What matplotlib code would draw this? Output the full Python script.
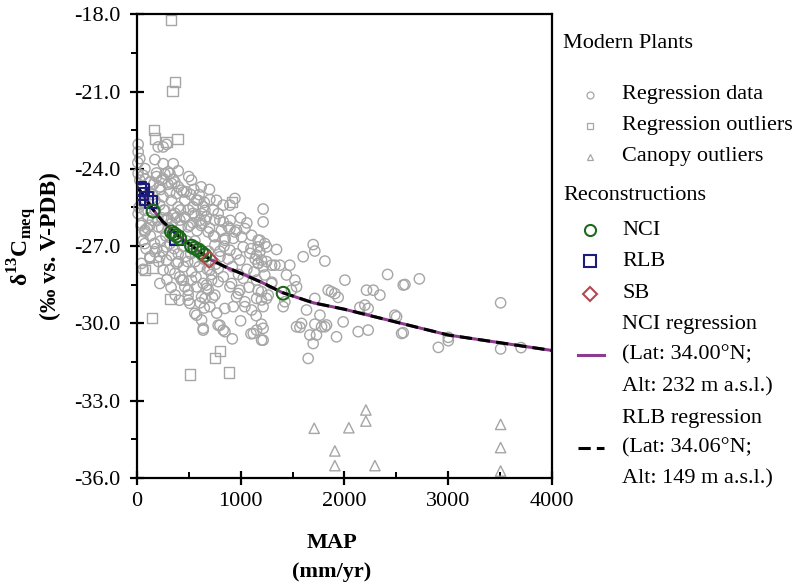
import matplotlib
matplotlib.use("Agg")
import matplotlib.pyplot as plt
from matplotlib.lines import Line2D
from matplotlib.ticker import MultipleLocator, FormatStrFormatter

plt.rcParams['font.family'] = ['Liberation Serif', 'DejaVu Serif']
plt.rcParams['mathtext.fontset'] = 'custom'
plt.rcParams['mathtext.rm'] = 'Liberation Serif'
plt.rcParams['mathtext.bf'] = 'Liberation Serif:bold'

# modern plant data (MAP mm/yr, d13C permil)
regression_data = [
    (13, -23.05), (13, -23.34), (10, -23.76), (174, -23.64), (254, -23.80), (351, -23.80),
    (399, -24.08), (206, -23.15), (254, -23.15), (286, -23.05), (78, -23.99), (190, -24.16),
    (527, -24.44), (479, -24.89), (704, -25.19), (945, -25.15), (13, -24.18), (29, -24.44),
    (254, -24.38), (335, -24.57), (319, -24.18), (126, -24.51), (222, -24.70), (383, -24.96),
    (29, -23.6), (61, -24.25), (302, -24.12), (238, -24.44), (367, -24.51), (431, -24.83),
    (832, -25.41), (656, -25.61), (784, -25.74), (752, -25.99), (624, -26.12), (559, -25.80),
    (688, -26.45), (816, -26.38), (881, -26.25), (945, -26.45), (1041, -26.32), (1009, -26.64),
    (318, -24.90), (174, -25.22), (254, -25.09), (334, -25.22), (45, -25.35), (77, -25.61),
    (13, -25.74), (270, -25.61), (399, -25.48), (463, -25.22), (350, -25.80), (463, -25.87),
    (543, -25.48), (591, -25.22), (624, -25.74), (511, -26.19), (286, -25.99), (126, -26.19),
    (45, -26.12), (77, -26.45), (752, -26.64), (848, -26.77), (1106, -26.58),
    (78, -26.38), (62, -26.77), (206, -26.25), (286, -27.03), (174, -27.22), (222, -27.41),
    (126, -27.41), (319, -27.93), (383, -27.67), (415, -28.19), (463, -28.58), (495, -28.90),
    (511, -29.22), (447, -28.32), (527, -28.32), (576, -28.58), (640, -28.45), (720, -28.32),
    (704, -27.93), (784, -27.87), (833, -28.19), (897, -28.58), (961, -28.97), (929, -29.35),
    (993, -28.71), (1025, -28.25), (1154, -28.32), (1202, -28.77), (1250, -29.03), (1154, -29.03),
    (1041, -29.35), (752, -28.90), (672, -28.64), (624, -28.97), (704, -29.35), (576, -29.68),
    (640, -30.26), (801, -30.07), (849, -30.32), (367, -25.73), (415, -25.99), (495, -26.25),
    (543, -25.73), (608, -25.99), (672, -25.86), (736, -25.60), (576, -25.22), (640, -25.47),
    (768, -25.22), (897, -25.41), (833, -26.06), (897, -26.32), (961, -26.38), (929, -26.70),
    (1025, -27.03), (1090, -27.28), (1170, -27.67), (1186, -26.77), (1250, -27.03), (993, -27.54),
    (897, -27.16), (801, -27.41), (752, -26.96),
    (77, -26.90), (190, -27.09), (334, -27.35), (367, -28.06), (431, -28.32), (495, -28.71),
    (495, -29.10), (559, -29.61), (624, -29.87), (640, -30.19), (784, -30.07), (832, -30.26),
    (656, -29.03), (848, -29.42), (672, -28.51), (784, -28.38), (913, -28.45), (977, -28.84),
    (1041, -29.16), (1106, -29.48), (1154, -30.26), (1202, -30.65), (1122, -30.39), (126, -27.48),
    (254, -27.93), (45, -27.67), (222, -28.45), (399, -27.61), (286, -27.54),
    (220, -25.4), (260, -25.6), (300, -25.9), (340, -26.1), (380, -25.9), (420, -25.6),
    (460, -25.9), (500, -25.6), (540, -26.1), (580, -26.4), (620, -26.2), (660, -26.0),
    (700, -26.3), (740, -26.6), (200, -26.0), (240, -26.3), (280, -26.6), (320, -26.9),
    (360, -27.1), (400, -27.3), (440, -27.0), (480, -26.8), (520, -27.3), (560, -27.6),
    (600, -27.8), (640, -27.5), (680, -27.9), (720, -28.1), (760, -27.7), (800, -27.2),
    (840, -27.0), (880, -27.5), (920, -27.8), (960, -27.3), (150, -25.0), (180, -25.6),
    (110, -25.9), (130, -26.6), (170, -26.9), (210, -27.6), (250, -27.2), (290, -28.3),
    (330, -28.6), (370, -28.9), (410, -29.1), (450, -27.8), (490, -27.6), (530, -28.0),
    (570, -28.2), (610, -29.2), (650, -29.4), (690, -28.7), (730, -29.0), (770, -29.6),
    (300, -24.6), (350, -24.4), (400, -24.7), (450, -24.9), (500, -24.3), (550, -24.8),
    (600, -25.0), (650, -25.3), (700, -24.8), (270, -24.2), (230, -24.8), (190, -24.3),
    (160, -24.6), (120, -24.9), (80, -24.4), (60, -25.3), (40, -26.2), (20, -25.5),
    (90, -27.1), (60, -27.9), (100, -26.3), (800, -26.0), (850, -26.7), (900, -26.0),
    (1000, -25.9), (1060, -26.1), (1100, -27.1), (1140, -27.5), (1060, -27.9), (980, -28.1),
    (1080, -28.6), (1130, -28.0), (1250, -27.6), (1300, -28.4), (1150, -29.7), (1000, -29.9),
    (920, -30.6), (1100, -30.4),
    (240, -25.9), (310, -26.3), (430, -26.2), (560, -26.8), (610, -27.1), (690, -27.2),
    (350, -26.6), (470, -27.4), (230, -26.8), (150, -26.0), (520, -25.0), (620, -24.7),
    (1217, -25.56), (1217, -26.06), (1169, -26.77), (1233, -26.90), (1169, -27.03), (1185, -27.22),
    (1153, -27.35), (1201, -27.54), (1169, -27.67), (1217, -27.80), (1298, -27.74), (1346, -27.13),
    (1330, -27.74), (1378, -27.74), (1474, -27.74), (1233, -28.12), (1298, -28.45), (1169, -28.71),
    (1266, -28.90), (1201, -29.09), (1217, -29.35), (1442, -28.12), (1523, -28.32), (1539, -28.58),
    (1490, -28.71), (1699, -26.94), (1715, -27.19), (1603, -27.41), (1812, -27.58), (2005, -28.32),
    (1876, -28.77), (1844, -28.71), (1908, -28.84), (1940, -28.99), (1715, -29.03), (1635, -29.48),
    (1764, -29.68), (1828, -30.06), (1715, -30.03), (1539, -30.13), (1587, -30.00), (1571, -30.15),
    (1667, -30.45), (1731, -30.45), (1699, -30.78), (1651, -31.36), (1924, -30.52), (1988, -29.94),
    (2133, -30.32), (2229, -30.26), (2197, -29.29), (2149, -29.38), (2229, -29.42), (2213, -28.71),
    (2278, -28.71), (2342, -28.90), (2416, -28.10), (2567, -28.51), (2486, -29.68), (2551, -30.39),
    (1426, -29.16), (1410, -29.35), (1201, -30.03), (1217, -30.19), (1217, -30.65), (1780, -30.13),
    (1812, -30.13), (2583, -28.49), (2722, -28.27), (2503, -29.74), (2567, -30.36), (2905, -30.93),
    (3001, -30.54), (3001, -30.67), (3505, -29.20), (3505, -30.99), (3702, -30.94),
]

outlier_map = [328, 366, 344, 164, 173, 286, 392, 920, 77, 151, 325, 148, 800, 752, 511, 890]
outlier_d13c = [-18.23, -20.63, -20.97, -22.50, -22.82, -22.95, -22.85, -25.3, -27.93, -27.83,
                -29.05, -29.78, -31.06, -31.33, -31.98, -31.91]

canopy_map = [1709, 1908, 1908, 2043, 2207, 2207, 2294, 3505, 3505, 3505]
canopy_d13c = [-34.07, -34.95, -35.52, -34.05, -33.36, -33.79, -35.52, -33.92, -34.82, -35.73]

# reconstructions
nci_map = [157, 334, 360, 385, 414, 527, 560, 590, 625, 655, 1410]
nci_d13c = [-25.64, -26.45, -26.52, -26.60, -26.70, -27.00, -27.08, -27.15, -27.25, -27.35, -28.83]
rlb_map = [29, 61, 51, 93, 135, 383]
rlb_d13c = [-24.76, -24.83, -24.98, -25.15, -25.28, -26.70]
sb_map = [697]
sb_d13c = [-27.52]

# regression curves
nci_reg_map = [0, 50, 150, 250, 400, 550, 700, 850, 1000, 1200, 1400, 1700, 2000, 2300, 2600, 3000, 3500, 4000]
nci_reg_d13c = [-24.70, -24.95, -25.55, -26.05, -26.60, -27.05, -27.50, -27.80, -28.05, -28.40,
                -28.80, -29.20, -29.45, -29.75, -30.05, -30.45, -30.75, -31.05]
rlb_reg_map = [0, 50, 150, 250, 400, 550, 700, 850, 1000, 1200, 1400, 1700, 2000, 2300, 2600, 3000, 3500, 4000]
rlb_reg_d13c = [-24.70, -24.95, -25.55, -26.05, -26.60, -27.05, -27.50, -27.80, -28.05, -28.40,
                -28.80, -29.20, -29.45, -29.75, -30.05, -30.45, -30.75, -31.05]

grey = '#a6a6a6'
purple = '#8e3a8e'
green = '#1b6b1b'
navy = '#1c1c7a'
red = '#b5474f'

fig = plt.figure(figsize=(8, 5.87), dpi=100)
ax = fig.add_axes([0.171, 0.1857, 0.519, 0.790])

rx = [p[0] for p in regression_data]
ry = [p[1] for p in regression_data]
ax.scatter(rx, ry, s=55, facecolors='none', edgecolors=grey, linewidths=1.0, zorder=2, clip_on=False)
ax.scatter(outlier_map, outlier_d13c, s=55, marker='s', facecolors='none', edgecolors=grey,
           linewidths=1.0, zorder=2, clip_on=False)
ax.scatter(canopy_map, canopy_d13c, s=55, marker='^', facecolors='none', edgecolors=grey,
           linewidths=1.0, zorder=2, clip_on=False)

ax.plot(nci_reg_map, nci_reg_d13c, color=purple, lw=2.2, zorder=3)
ax.plot(rlb_reg_map, rlb_reg_d13c, color='black', lw=2.2, dashes=(4, 2), zorder=4)

ax.scatter(rlb_map, rlb_d13c, s=80, marker='s', facecolors='none', edgecolors=navy, linewidths=1.5, zorder=5)
ax.scatter(nci_map, nci_d13c, s=85, facecolors='none', edgecolors=green, linewidths=1.5, zorder=5)
ax.scatter(sb_map, sb_d13c, s=70, marker='D', facecolors='none', edgecolors=red, linewidths=1.5, zorder=5)

ax.set_xlim(0, 4000)
ax.set_ylim(-36, -18)
ax.xaxis.set_major_locator(MultipleLocator(1000))
ax.xaxis.set_minor_locator(MultipleLocator(500))
ax.yaxis.set_major_locator(MultipleLocator(3))
ax.yaxis.set_minor_locator(MultipleLocator(1.5))
ax.yaxis.set_major_formatter(FormatStrFormatter('%.1f'))
for s in ax.spines.values():
    s.set_linewidth(1.6)
ax.tick_params(which='major', direction='inout', length=10, width=1.6, labelsize=16)
ax.tick_params(axis='x', which='major', pad=5)
ax.tick_params(axis='y', which='major', pad=7)
ax.tick_params(axis='x', which='minor', direction='in', length=4, width=1.4)
ax.tick_params(axis='y', which='minor', direction='out', length=4, width=1.4)

fig.text(332 / 800, 1 - 543 / 587, 'MAP', ha='center', va='center', fontsize=16, fontweight='bold')
fig.text(332 / 800, 1 - 572 / 587, '(mm/yr)', ha='center', va='center', fontsize=16, fontweight='bold')
fig.text(22 / 800, 1 - 246 / 587, r'δ$^{\mathbf{13}}$C$_{\mathbf{meq}}$', rotation=90, ha='center',
         va='center', fontsize=17, fontweight='bold')
fig.text(50 / 800, 1 - 246 / 587, '(‰ vs. V-PDB)', rotation=90, ha='center', va='center',
         fontsize=17, fontweight='bold')

# legend drawn by hand on the right
def fx(px):
    return px / 800

def fy(py):
    return 1 - py / 587

lfs = 16
fig.text(fx(563), fy(43), 'Modern Plants', fontsize=lfs, va='center')
fig.text(fx(563), fy(196), 'Reconstructions', fontsize=lfs, va='center')
entries = [
    (95, 'o', grey, 5, 0.9, 'Regression data'),
    (126, 's', grey, 5, 0.9, 'Regression outliers'),
    (157, '^', grey, 5, 0.9, 'Canopy outliers'),
    (230, 'o', green, 8, 1.5, 'NCI'),
    (261, 's', navy, 8, 1.5, 'RLB'),
    (294, 'D', red, 7, 1.5, 'SB'),
]
for py, m, c, ms, mew, lab in entries:
    fig.add_artist(Line2D([fx(590)], [fy(py)], marker=m, ms=ms, mfc='none', mec=c, mew=mew,
                          transform=fig.transFigure))
    fig.text(fx(622), fy(py), lab, fontsize=lfs, va='center')

fig.add_artist(Line2D([fx(578), fx(604)], [fy(355), fy(355)], color=purple, lw=2.2, transform=fig.transFigure))
fig.add_artist(Line2D([fx(578), fx(604)], [fy(448), fy(448)], color='black', lw=2.2, dashes=(4, 2),
                      transform=fig.transFigure))
for py, lab in [(325, 'NCI regression'), (355, '(Lat: 34.00°N;'), (387, 'Alt: 232 m a.s.l.)'),
                (418, 'RLB regression'), (448, '(Lat: 34.06°N;'), (479, 'Alt: 149 m a.s.l.)')]:
    fig.text(fx(622), fy(py), lab, fontsize=lfs, va='center')

fig.savefig('out.png', dpi=100)
